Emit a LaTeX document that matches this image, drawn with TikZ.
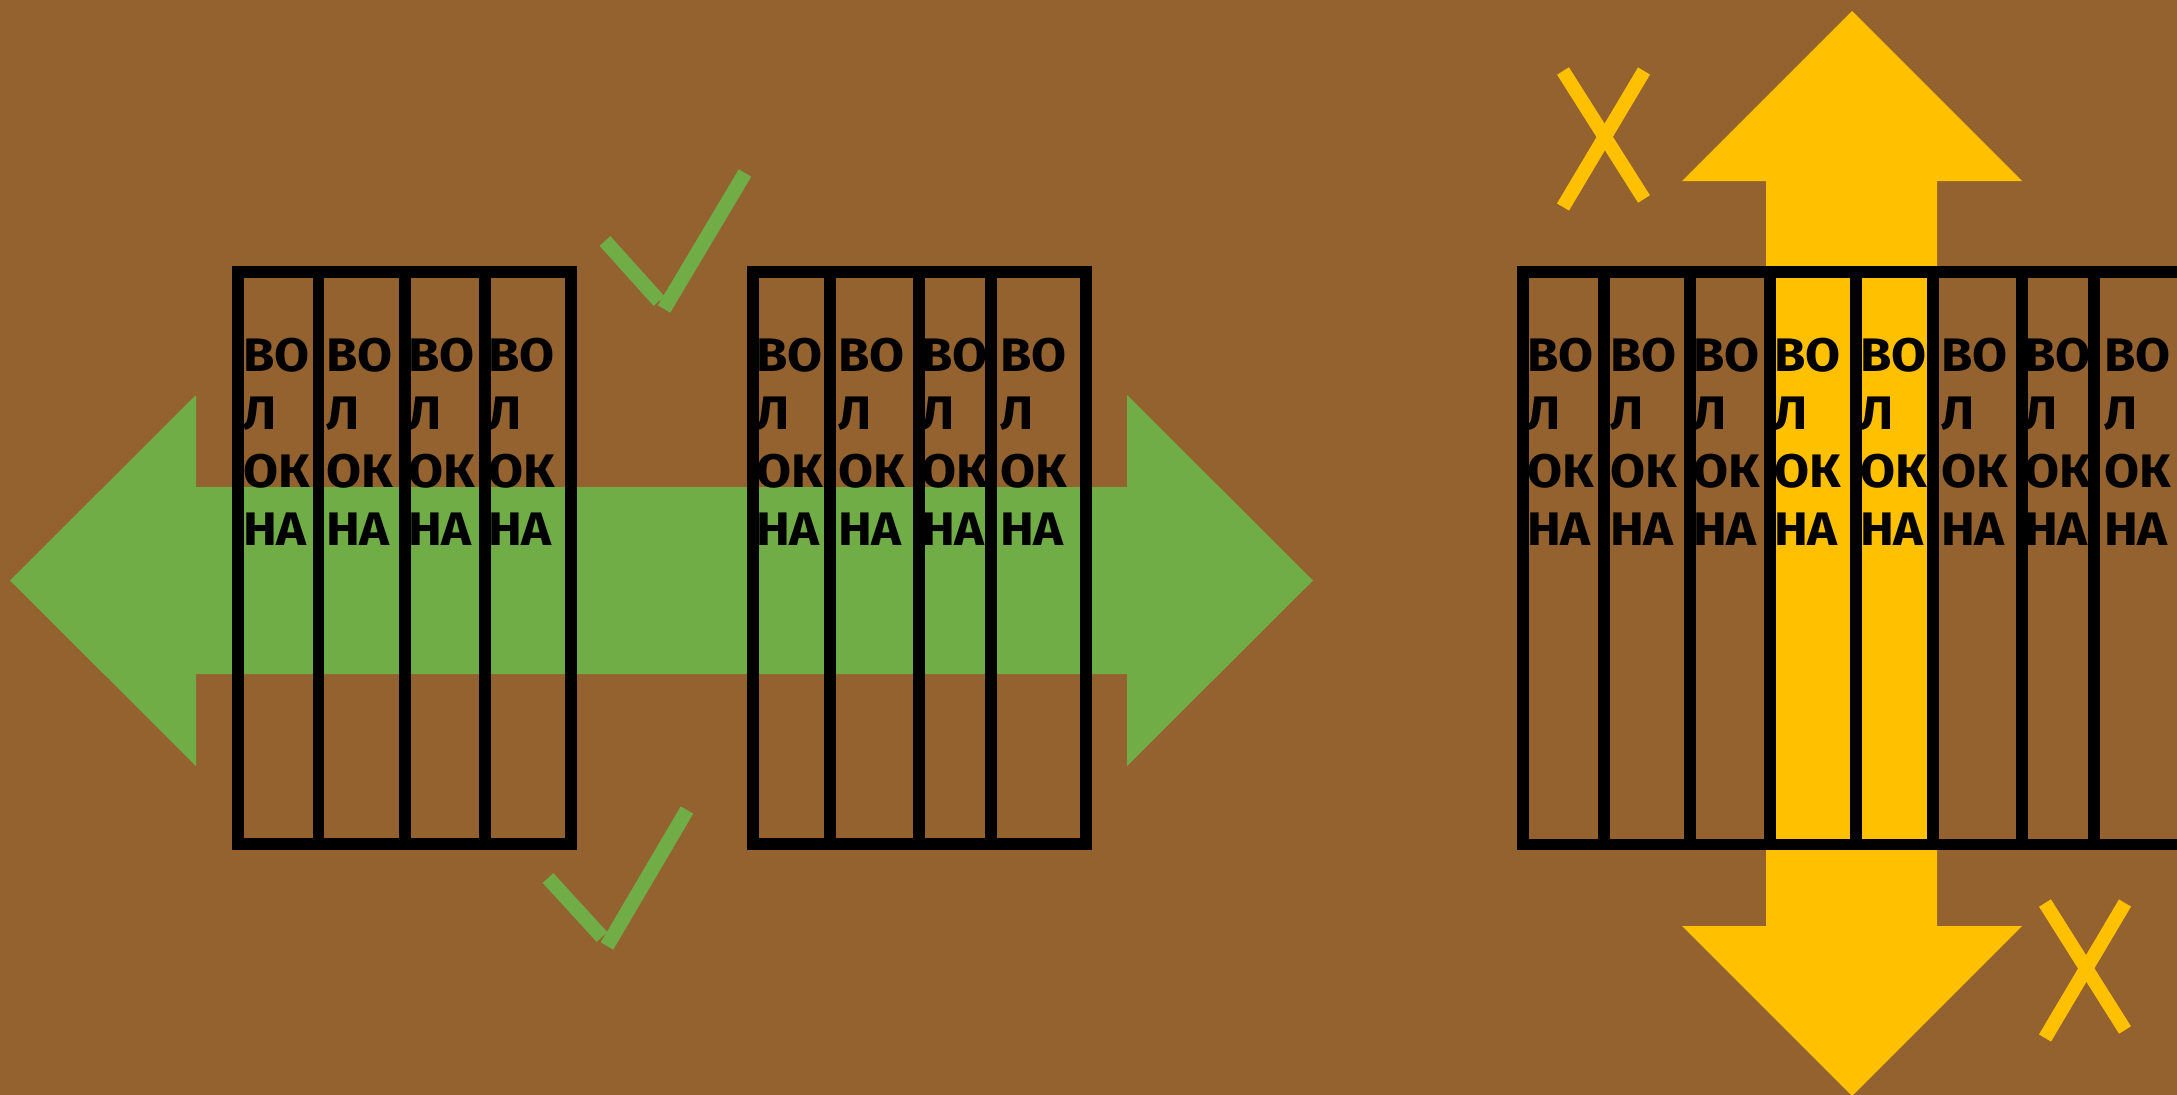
\documentclass[tikz,border=0pt]{standalone}
\usepackage{fontspec}
\newfontfamily\bookfont[Script=Cyrillic,Language=Bulgarian,FakeStretch=1.08]{Fira Sans}
\definecolor{bgbrown}{HTML}{93622F}
\definecolor{arrowgreen}{HTML}{70AD47}
\definecolor{arrowgold}{HTML}{FFC000}
\tikzset{
  booktxt/.style={anchor=base west, inner sep=0pt, outer sep=0pt,
    font=\bookfont\bfseries\fontsize{47}{47}\selectfont, text=black},
  shelf/.style={draw=black, line width=11.5pt},
  divider/.style={black, line width=11.5pt},
  tick/.style={arrowgreen, line width=14.5pt},
  cross/.style={arrowgold, line width=14pt},
}
\begin{document}
\begin{tikzpicture}[x=1pt,y=-1pt]
\fill[bgbrown] (0,0) rectangle (2177,1095);
\useasboundingbox (0,0) rectangle (2177,1095);
\begin{scope}
\clip (0,0) rectangle (2177,1095);
% green double arrow
\fill[arrowgreen] (10,580.5) -- (196,395) -- (196,487) -- (1127,487) -- (1127,395)
  -- (1313,580.5) -- (1127,766) -- (1127,674) -- (196,674) -- (196,766) -- cycle;
% gold double arrow
\fill[arrowgold] (1852,11) -- (2022,181) -- (1937,181) -- (1937,926) -- (2022,926)
  -- (1852,1096) -- (1682,926) -- (1766,926) -- (1766,181) -- (1682,181) -- cycle;
% book texts
\foreach \x [count=\i] in {243,326,408,488,756,838,921,1000,1527,1610,1693,1774,1860,1941,2024,2104} {
  \node[booktxt] (t\i-a) at (\x,371) {ВО};
  \node[booktxt] (t\i-b) at (\x,429) {Л};
  \node[booktxt] (t\i-c) at (\x,487) {ОК};
  \node[booktxt] (t\i-d) at (\x,545) {НА};
}
% shelves
\draw[shelf] (238,272) rectangle (571,844);
\foreach \x in {318.5,405,485} \draw[divider] (\x,272) -- (\x,844);
\draw[shelf] (753,272) rectangle (1086,844);
\foreach \x in {830,919,991} \draw[divider] (\x,272) -- (\x,844);
\draw[shelf] (2300,272) -- (1523,272) -- (1523,844.5) -- (2300,844.5);
\foreach \x in {1604,1690,1770,1856,1933,2022,2094} \draw[divider] (\x,272) -- (\x,844.5);
% ticks
\draw[tick] (605,241) -- (659,301);
\draw[tick] (664,309) -- (745,173);
\draw[tick] (548,878) -- (602,937);
\draw[tick] (607,946) -- (687,810);
% crosses
\draw[cross] (1563,71) -- (1644,199);
\draw[cross] (1644,71) -- (1563,207);
\draw[cross] (2045,903) -- (2125,1030);
\draw[cross] (2125,903) -- (2045,1038);
\end{scope}
\end{tikzpicture}
\end{document}
